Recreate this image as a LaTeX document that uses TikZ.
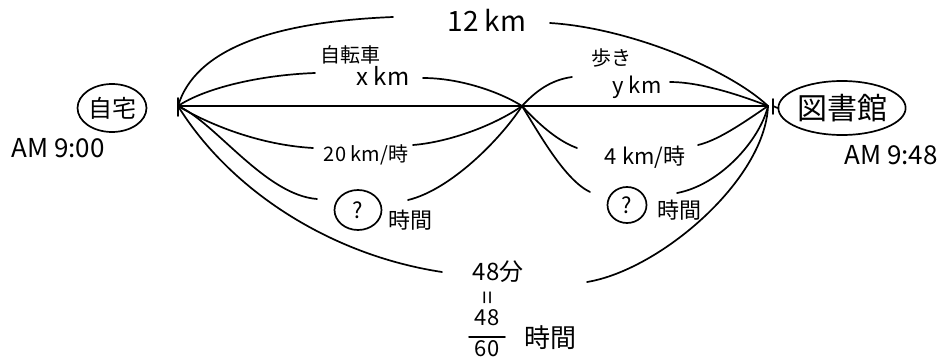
\documentclass[tikz,border=0pt]{standalone}
\usepackage{fontspec}
\setmainfont{Noto Sans CJK JP}
\usetikzlibrary{shapes.geometric}
\begin{document}
\begin{tikzpicture}[x=1pt,y=-1pt,line width=1.7pt,line cap=round,line join=round,
  lbl/.style={inner sep=0pt,font=\fontsize{#1pt}{#1pt}\selectfont},
  oval/.style={draw,ellipse,inner sep=0pt,line width=1.7pt},
  curve/.style={line width=1.7pt}]
\useasboundingbox (0,0) rectangle (952,361);
% end nodes
\node[oval,minimum width=69pt,minimum height=48pt,lbl=24] (home) at (112,108) {自宅};
\node[oval,minimum width=127pt,minimum height=54pt,lbl=30] (lib) at (842,108) {図書館};
\node[lbl=26] (t0) at (58,148) {AM 9:00};
\node[lbl=26] (t1) at (891,155) {AM 9:48};
% junctions
\coordinate (A) at (178,106);
\coordinate (M) at (522,106);
\coordinate (R) at (768,106);
\coordinate (Rt) at (773,106);
% main line and ticks
\draw[line width=1.4pt] (A) -- (M) -- (R);
\draw ([yshift=8pt]A) -- ([yshift=-10pt]A);
\draw ([yshift=7pt]Rt) -- ([yshift=-8pt]Rt);
\draw (Rt) -- (lib.west);
% labels
\node[lbl=28] (d12) at (487,20) {12 km};
\node[lbl=20] (bike) at (350,55) {自転車};
\node[lbl=24] (xkm) at (383,76) {x km};
\node[lbl=20] (walk) at (611,58) {歩き};
\node[lbl=22] (ykm) at (637,87) {y km};
\node[lbl=20] (v20) at (366,155) {20 km/時};
\node[oval,minimum width=47pt,minimum height=40pt,lbl=22] (q1) at (358,210) {?};
\node[lbl=22] (h1) at (410,220) {時間};
\node[lbl=22] (v4) at (645,157) {4 km/時};
\node[oval,minimum width=39pt,minimum height=36pt,lbl=22] (q2) at (627,205) {?};
\node[lbl=22] (h2) at (679,210) {時間};
\node[lbl=24] (m48) at (498,272) {48分};
\node[lbl=24,rotate=90] (eq) at (490,298) {=};
\node[lbl=22] (num) at (487,318) {48};
\node[lbl=22] (den) at (487,349) {60};
\draw[line width=1.4pt] ([xshift=-5pt,yshift=3pt]den.north west) -- ([xshift=5pt,yshift=3pt]den.north east);
\node[lbl=26] (h3) at (550,338) {時間};
% free ends of the curves
\coordinate (a1) at (393,17);  \coordinate (a2) at (550,23);
\coordinate (b1) at (315,73);  \coordinate (b2) at (423,78);
\coordinate (c1) at (572,77);  \coordinate (c2) at (670,82);
\coordinate (d1) at (313,148); \coordinate (d2) at (413,145);
\coordinate (e1) at (317,199); \coordinate (e2) at (408,200);
\coordinate (f1) at (442,272); \coordinate (f2) at (587,282);
\coordinate (g1) at (577,148); \coordinate (g2) at (698,145);
\coordinate (k1) at (590,192); \coordinate (k2) at (677,193);
% curves
\draw[curve] (A) .. controls (195,50) and (270,22) .. (a1);
\draw[curve] (a2) .. controls (630,28) and (730,70) .. (R);
\draw[curve] (A) .. controls (205,88) and (260,75) .. (b1);
\draw[curve] (b2) .. controls (460,78) and (500,92) .. (M);
\draw[curve] (M) .. controls (535,92) and (550,80) .. (c1);
\draw[curve] (c2) .. controls (700,82) and (740,95) .. (R);
\draw[curve] (A) .. controls (210,125) and (260,145) .. (d1);
\draw[curve] (d2) .. controls (450,142) and (495,125) .. (M);
\draw[curve] (A) .. controls (215,122) and (265,195) .. (e1);
\draw[curve] (e2) .. controls (450,190) and (500,140) .. (M);
\draw[curve] (A) .. controls (230,190) and (330,255) .. (f1);
\draw[curve] (f2) .. controls (660,270) and (765,180) .. (R);
\draw[curve] (M) .. controls (535,120) and (555,140) .. (g1);
\draw[curve] (g2) .. controls (720,140) and (750,118) .. (R);
\draw[curve] (M) .. controls (540,135) and (565,180) .. (k1);
\draw[curve] (k2) .. controls (720,185) and (760,140) .. (R);
\end{tikzpicture}
\end{document}
